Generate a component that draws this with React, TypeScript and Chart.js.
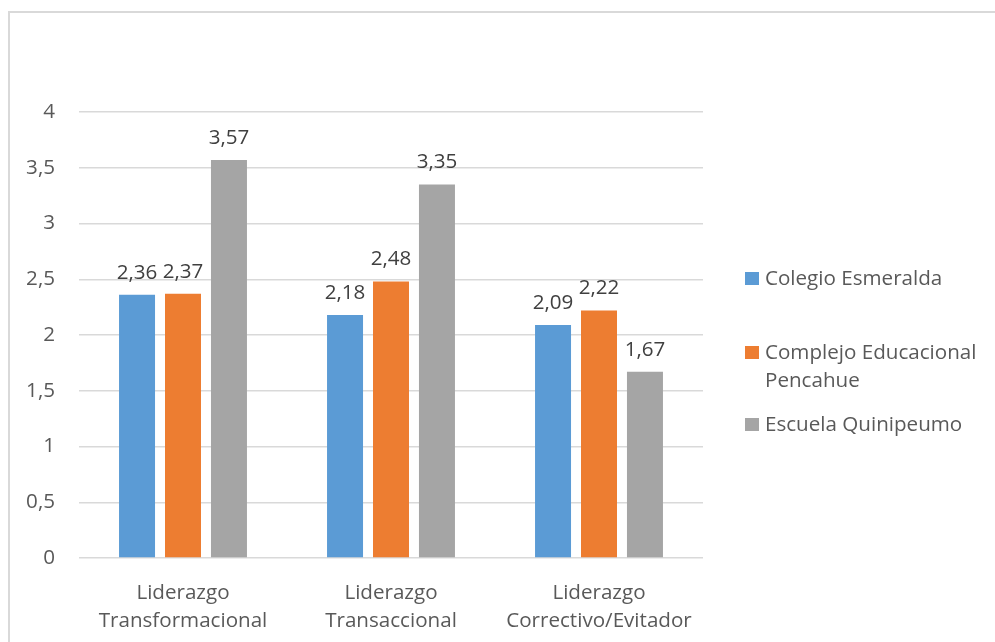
import React, { useEffect, useRef } from "react";
import { Chart, registerables } from "chart.js";

Chart.register(...registerables);

const categories: string[][] = [
  ["Liderazgo", "Transformacional"],
  ["Liderazgo", "Transaccional"],
  ["Liderazgo", "Correctivo/Evitador"],
];
const seriesNames: string[][] = [
  ["Colegio Esmeralda"],
  ["Complejo Educacional", "Pencahue"],
  ["Escuela Quinipeumo"],
];
const colegioEsmeralda = [2.36, 2.18, 2.09];
const complejoPencahue = [2.37, 2.48, 2.22];
const escuelaQuinipeumo = [3.57, 3.35, 1.67];
const seriesColors = ["#5B9BD5", "#ED7D31", "#A5A5A5"];
const yTicks = [0, 0.5, 1, 1.5, 2, 2.5, 3, 3.5, 4];

const FONT = "'Open Sans', sans-serif";
const TEXT = "#595959";
const FS = 20.6;

const fmt = (v: number) => String(v).replace(".", ",");

export default function App() {
  const ref = useRef<HTMLCanvasElement | null>(null);

  useEffect(() => {
    if (!ref.current) return;

    const framePlugin = {
      id: "frame",
      beforeDraw(chart: any) {
        const ctx = chart.ctx;
        ctx.save();
        ctx.fillStyle = "#ffffff";
        ctx.fillRect(0, 0, chart.width, chart.height);
        ctx.strokeStyle = "#d9d9d9";
        ctx.lineWidth = 2;
        ctx.strokeRect(9, 12, chart.width + 20, chart.height + 20);
        ctx.restore();
      },
    };

    const labelsPlugin = {
      id: "barLabels",
      afterDatasetsDraw(chart: any) {
        const ctx = chart.ctx;
        ctx.save();
        ctx.font = `${FS}px ${FONT}`;
        ctx.fillStyle = "#404040";
        ctx.textAlign = "center";
        ctx.textBaseline = "alphabetic";
        chart.data.datasets.forEach((ds: any, i: number) => {
          const meta = chart.getDatasetMeta(i);
          meta.data.forEach((el: any, j: number) => {
            ctx.fillText(fmt(ds.data[j]), el.x, el.y - 16);
          });
        });
        ctx.restore();
      },
    };

    const legendPlugin = {
      id: "customLegend",
      afterDraw(chart: any) {
        const ctx = chart.ctx;
        ctx.save();
        ctx.font = `${FS}px ${FONT}`;
        ctx.fillStyle = TEXT;
        ctx.textAlign = "left";
        ctx.textBaseline = "middle";
        const rowsY = [279, 353, 425];
        seriesNames.forEach((lines, i) => {
          const y = rowsY[i];
          ctx.fillStyle = seriesColors[i];
          ctx.fillRect(745, y - 7, 14, 13);
          ctx.fillStyle = TEXT;
          lines.forEach((line, k) => {
            ctx.fillText(line, 765, y + k * 28);
          });
        });
        ctx.restore();
      },
    };

    const chart = new Chart(ref.current, {
      type: "bar",
      data: {
        labels: categories,
        datasets: [
          { label: seriesNames[0].join(" "), data: colegioEsmeralda, backgroundColor: seriesColors[0] },
          { label: seriesNames[1].join(" "), data: complejoPencahue, backgroundColor: seriesColors[1] },
          { label: seriesNames[2].join(" "), data: escuelaQuinipeumo, backgroundColor: seriesColors[2] },
        ],
      },
      options: {
        responsive: false,
        animation: false,
        devicePixelRatio: 1,
        layout: { padding: { top: 112, right: 292, left: 0, bottom: 0 } },
        datasets: {
          bar: { categoryPercentage: 0.663, barPercentage: 0.783 },
        },
        plugins: {
          legend: { display: false },
          tooltip: { enabled: false },
        },
        scales: {
          x: {
            grid: { display: false },
            border: { display: false },
            ticks: {
              color: TEXT,
              padding: 13,
              font: { family: FONT, size: FS, lineHeight: "28px" },
            },
            afterFit(scale: any) {
              scale.height = 84;
            },
          },
          y: {
            min: 0,
            max: 4,
            afterBuildTicks(scale: any) {
              scale.ticks = yTicks.map((v) => ({ value: v }));
            },
            grid: { color: "#d9d9d9", lineWidth: 1.5, drawTicks: false },
            border: { display: false },
            ticks: {
              color: TEXT,
              padding: 24,
              font: { family: FONT, size: FS },
              callback: (v: any) => fmt(Number(v)),
            },
            afterFit(scale: any) {
              scale.width = 79;
            },
          },
        },
      },
      plugins: [framePlugin, labelsPlugin, legendPlugin],
    });

    return () => chart.destroy();
  }, []);

  return (
    <div style={{ position: "absolute", left: 0, top: 0, width: 995, height: 642 }}>
      <canvas ref={ref} width={995} height={642} style={{ display: "block" }} />
    </div>
  );
}
